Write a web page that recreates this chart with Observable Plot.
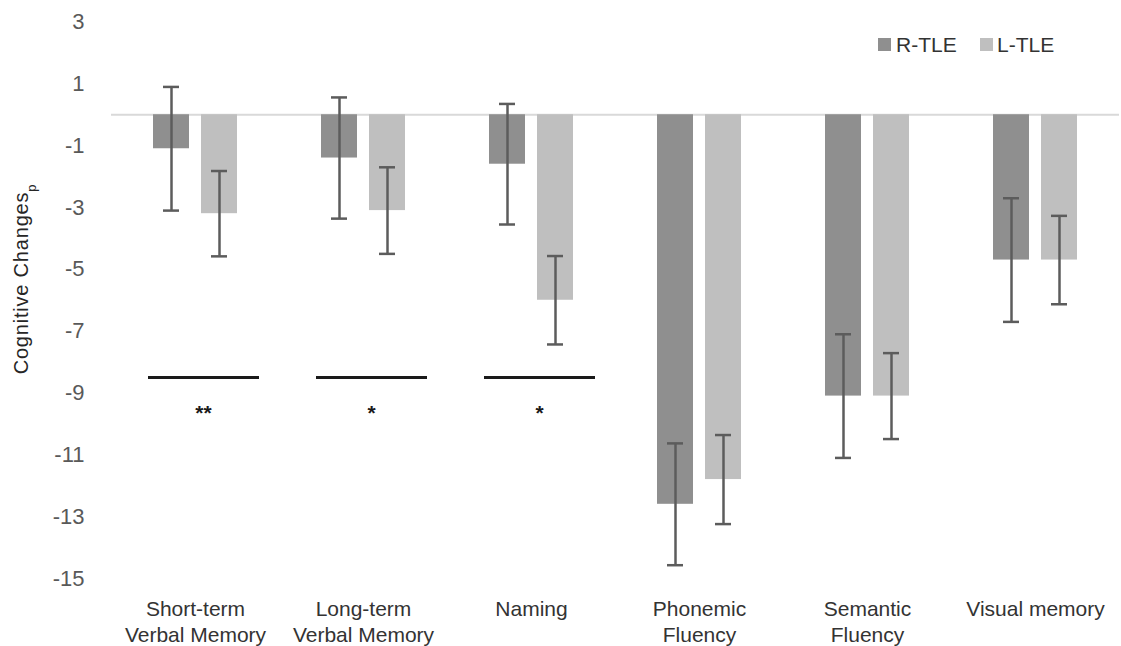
<!DOCTYPE html>
<html>
<head>
<meta charset="utf-8">
<script src="https://cdn.jsdelivr.net/npm/d3@7"></script>
<script src="https://cdn.jsdelivr.net/npm/@observablehq/plot@0.6"></script>
<style>
  body { margin: 0; background: #fff; }
  #chart { width: 1121px; height: 646px; }
</style>
</head>
<body>
<div id="chart"></div>
<script>
// ---- data ----
const categories = ["Short-term Verbal Memory", "Long-term Verbal Memory", "Naming", "Phonemic Fluency", "Semantic Fluency", "Visual memory"];
const tickLabels = ["Short-term\nVerbal Memory", "Long-term\nVerbal Memory", "Naming", "Phonemic\nFluency", "Semantic\nFluency", "Visual memory"];
const series = ["R-TLE", "L-TLE"];
const rValues = [-1.1, -1.4, -1.6, -12.6, -9.1, -4.7];
const lValues = [-3.2, -3.1, -6.0, -11.8, -9.1, -4.7];
const rErrors = [2.0, 1.96, 1.95, 1.97, 2.0, 2.0];
const lErrors = [1.38, 1.4, 1.43, 1.44, 1.39, 1.43];
const yTicks = [3, 1, -1, -3, -5, -7, -9, -11, -13, -15];
const sigCategories = ["Short-term Verbal Memory", "Long-term Verbal Memory", "Naming"];
const sigLabels = ["**", "*", "*"];
const sigLineValue = -8.5;
const sigMarkValue = -9.5;
const yLabel = "Cognitive Changes";
const yLabelSub = "p";

// ---- tables built from the arrays ----
const rows = categories.flatMap((c, i) => [
  {category: c, series: "R-TLE", value: rValues[i], error: rErrors[i]},
  {category: c, series: "L-TLE", value: lValues[i], error: lErrors[i]}
]);
const sig = sigCategories.map((c, i) => ({category: c, label: sigLabels[i], line: sigLineValue, mark: sigMarkValue}));

const colors = ["#8f8f8f", "#bfbfbf"];
const errColor = "#5c5c5c";

const plot = Plot.plot({
  width: 1121,
  height: 646,
  marginLeft: 110,
  marginRight: 1,
  marginTop: 21.5,
  marginBottom: 68,
  style: {fontFamily: "'Liberation Sans', Arial, sans-serif", background: "#fff"},
  fx: {domain: categories, padding: 0},
  x: {domain: series, paddingInner: 0.24, paddingOuter: 0.84, axis: null},
  y: {domain: [-15, 3]},
  color: {domain: series, range: colors},
  marks: [
    Plot.ruleY([0], {stroke: "#d9d9d9", strokeWidth: 2}),
    Plot.barY(rows, {fx: "category", x: "series", y: "value", fill: "series"}),
    Plot.ruleX(rows, {fx: "category", x: "series", y1: d => d.value - d.error, y2: d => d.value + d.error, stroke: errColor, strokeWidth: 2.5}),
    Plot.tickY(rows, {fx: "category", x: "series", y: d => d.value - d.error, insetLeft: 10, insetRight: 10, stroke: errColor, strokeWidth: 2.5}),
    Plot.tickY(rows, {fx: "category", x: "series", y: d => d.value + d.error, insetLeft: 10, insetRight: 10, stroke: errColor, strokeWidth: 2.5}),
    Plot.ruleY(sig, {fx: "category", y: "line", insetLeft: 37, insetRight: 20, stroke: "#1a1a1a", strokeWidth: 3}),
    Plot.text(sig, {fx: "category", y: "mark", text: "label", dx: 8, dy: 5, fontSize: 21, fontWeight: "bold", fill: "#1a1a1a"}),
    Plot.axisY(yTicks, {tickSize: 0, tickPadding: 27, fontSize: 22, fill: "#595959", label: null, tickFormat: d => String(d)}),
    Plot.axisFx({anchor: "bottom", tickSize: 0, tickPadding: 20, fontSize: 21, lineHeight: 1.2, fill: "#333333", label: null,
      tickFormat: d => tickLabels[categories.indexOf(d)]})
  ]
});

document.getElementById("chart").appendChild(plot);

// y-axis title with subscript
const svg = d3.select(plot);
const t = svg.append("text")
  .attr("transform", "translate(28,279) rotate(-90)")
  .attr("text-anchor", "middle")
  .attr("font-size", 20)
  .attr("letter-spacing", 0.8)
  .attr("fill", "#262626")
  .text(yLabel);
t.append("tspan").attr("baseline-shift", "sub").attr("font-size", 13).text(yLabelSub);

// legend (top right, inside the plot)
const legendPos = [{rx: 878, tx: 896}, {rx: 980, tx: 997}];
series.forEach((s, i) => {
  svg.append("rect").attr("x", legendPos[i].rx).attr("y", 38).attr("width", 13).attr("height", 13).attr("fill", colors[i]);
  svg.append("text").attr("x", legendPos[i].tx).attr("y", 44.5).attr("dy", "0.35em")
    .attr("text-anchor", "start")
    .attr("font-size", 21).attr("fill", "#333333").text(s);
});
</script>
</body>
</html>
